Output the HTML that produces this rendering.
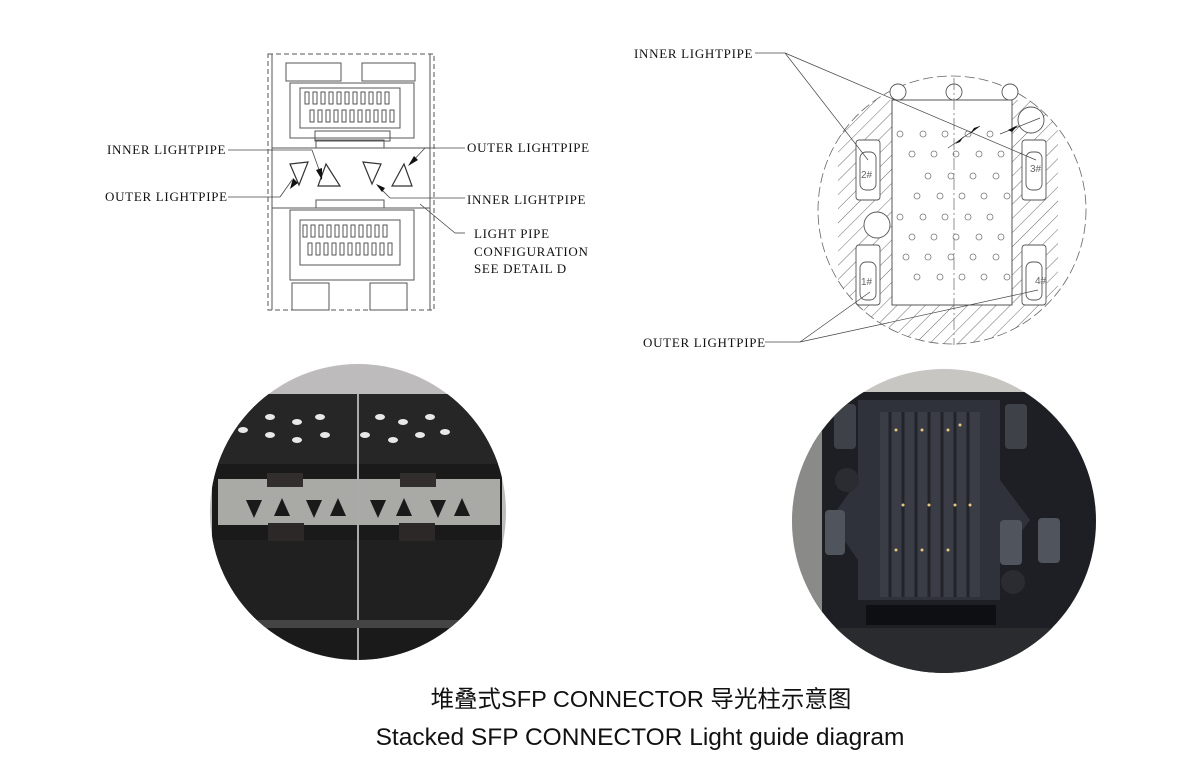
<!DOCTYPE html>
<html><head><meta charset="utf-8"><style>
html,body{margin:0;padding:0;background:#fff;}
svg{display:block}
.t{font-family:"Liberation Serif",serif;font-size:13px;fill:#111;letter-spacing:0.7px}
</style></head><body>
<svg width="1200" height="777" viewBox="0 0 1200 777" xmlns="http://www.w3.org/2000/svg">
<defs>
<clipPath id="c1"><circle cx="358" cy="512" r="148"/></clipPath>
<clipPath id="c2"><circle cx="944" cy="521" r="152"/></clipPath>
<clipPath id="c3"><circle cx="952" cy="210" r="134"/></clipPath>
<pattern id="h" width="10" height="10" patternUnits="userSpaceOnUse" patternTransform="rotate(45)"><line x1="0" y1="0" x2="0" y2="10" stroke="#444" stroke-width="0.8"/></pattern>
</defs>

<!-- LEFT DRAWING -->
<g fill="none" stroke="#555" stroke-width="1">
<rect x="268" y="54" width="166" height="256" stroke-dasharray="5,3"/>
<line x1="272" y1="54" x2="272" y2="310"/><line x1="430" y1="54" x2="430" y2="310"/>
<rect x="286" y="63" width="55" height="18"/><rect x="362" y="63" width="53" height="18"/>
<rect x="290" y="83" width="124" height="55"/>
<rect x="300" y="88" width="100" height="40"/>
<rect x="315" y="131" width="75" height="10"/>
<rect x="316" y="140" width="68" height="8"/>
<line x1="272" y1="148" x2="430" y2="148"/>
<rect x="316" y="200" width="68" height="8"/>
<rect x="290" y="210" width="124" height="70"/>
<rect x="300" y="220" width="100" height="45"/>
<line x1="272" y1="208" x2="430" y2="208"/>
<rect x="292" y="283" width="37" height="27"/><rect x="370" y="283" width="37" height="27"/>
</g>
<g fill="#fff" stroke="#444" stroke-width="0.9">
<g id="pins"><rect x="305" y="92" width="4" height="12"/><rect x="313" y="92" width="4" height="12"/><rect x="321" y="92" width="4" height="12"/><rect x="329" y="92" width="4" height="12"/><rect x="337" y="92" width="4" height="12"/><rect x="345" y="92" width="4" height="12"/><rect x="353" y="92" width="4" height="12"/><rect x="361" y="92" width="4" height="12"/><rect x="369" y="92" width="4" height="12"/><rect x="377" y="92" width="4" height="12"/><rect x="385" y="92" width="4" height="12"/>
<rect x="310" y="110" width="4" height="12"/><rect x="318" y="110" width="4" height="12"/><rect x="326" y="110" width="4" height="12"/><rect x="334" y="110" width="4" height="12"/><rect x="342" y="110" width="4" height="12"/><rect x="350" y="110" width="4" height="12"/><rect x="358" y="110" width="4" height="12"/><rect x="366" y="110" width="4" height="12"/><rect x="374" y="110" width="4" height="12"/><rect x="382" y="110" width="4" height="12"/><rect x="390" y="110" width="4" height="12"/></g>
<use href="#pins" transform="translate(-2,133)"/>
</g>
<g fill="none" stroke="#333" stroke-width="1.2">
<path d="M290 164 L308 162 L299 185 Z"/><path d="M326 164 L340 186 L318 186 Z"/>
<path d="M363 162 L381 164 L372 184 Z"/><path d="M404 164 L412 186 L392 186 Z"/>
</g>
<g stroke="#444" stroke-width="0.8" fill="none">
<line x1="228" y1="150" x2="312" y2="150"/><line x1="312" y1="150" x2="322" y2="178"/>
<line x1="228" y1="197" x2="280" y2="197"/><line x1="280" y1="197" x2="292" y2="180"/>
<line x1="465" y1="148" x2="425" y2="148"/><line x1="425" y1="148" x2="410" y2="164"/>
<line x1="465" y1="198" x2="390" y2="198"/><line x1="390" y1="198" x2="378" y2="186"/>
<line x1="465" y1="233" x2="455" y2="233"/><line x1="455" y1="233" x2="420" y2="204"/>
</g>
<g fill="#111">
<path d="M322 180 L316 170 L322 168 Z"/><path d="M293 178 L290 189 L298 183 Z"/>
<path d="M408 166 L414 156 L418 160 Z"/><path d="M376 184 L385 188 L382 192 Z"/>
</g>
<text class="t" x="107" y="154">INNER LIGHTPIPE</text>
<text class="t" x="105" y="201">OUTER LIGHTPIPE</text>
<text class="t" x="467" y="152">OUTER LIGHTPIPE</text>
<text class="t" x="467" y="204">INNER LIGHTPIPE</text>
<text class="t" x="474" y="238">LIGHT PIPE</text>
<text class="t" x="474" y="256">CONFIGURATION</text>
<text class="t" x="474" y="273">SEE DETAIL D</text>

<!-- RIGHT DRAWING -->
<circle cx="952" cy="210" r="134" fill="none" stroke="#666" stroke-dasharray="10,4" stroke-width="0.8"/>
<g clip-path="url(#c3)">
<path d="M838 100 L892 100 L892 305 L1012 305 L1012 100 L1058 100 L1058 305 L1058 360 L838 360 Z" fill="url(#h)"/>
<rect x="892" y="100" width="120" height="205" fill="#fff" stroke="#555"/>
</g>
<g fill="#fff" stroke="#555" stroke-width="0.9">
<rect x="856" y="140" width="24" height="60" rx="3"/><rect x="860" y="152" width="16" height="38" rx="6"/>
<rect x="1022" y="140" width="24" height="60" rx="3"/><rect x="1026" y="152" width="16" height="38" rx="6"/>
<rect x="856" y="245" width="24" height="60" rx="3"/><rect x="860" y="262" width="16" height="38" rx="6"/>
<rect x="1022" y="245" width="24" height="60" rx="3"/><rect x="1026" y="262" width="16" height="38" rx="6"/>
<circle cx="898" cy="92" r="8"/><circle cx="954" cy="92" r="8"/><circle cx="1010" cy="92" r="8"/>
<circle cx="1031" cy="120" r="13"/><circle cx="877" cy="225" r="13"/>
</g>
<g fill="none" stroke="#777" stroke-width="0.8">
<circle cx="900" cy="134" r="3"/><circle cx="923" cy="134" r="3"/><circle cx="945" cy="134" r="3"/><circle cx="968" cy="134" r="3"/><circle cx="990" cy="134" r="3"/>
<circle cx="912" cy="154" r="3"/><circle cx="934" cy="154" r="3"/><circle cx="956" cy="154" r="3"/><circle cx="979" cy="154" r="3"/><circle cx="1001" cy="154" r="3"/>
<circle cx="928" cy="176" r="3"/><circle cx="951" cy="176" r="3"/><circle cx="973" cy="176" r="3"/><circle cx="996" cy="176" r="3"/>
<circle cx="917" cy="196" r="3"/><circle cx="940" cy="196" r="3"/><circle cx="962" cy="196" r="3"/><circle cx="984" cy="196" r="3"/><circle cx="1007" cy="196" r="3"/>
<circle cx="900" cy="217" r="3"/><circle cx="923" cy="217" r="3"/><circle cx="945" cy="217" r="3"/><circle cx="968" cy="217" r="3"/><circle cx="990" cy="217" r="3"/>
<circle cx="912" cy="237" r="3"/><circle cx="934" cy="237" r="3"/><circle cx="956" cy="237" r="3"/><circle cx="979" cy="237" r="3"/><circle cx="1001" cy="237" r="3"/>
<circle cx="906" cy="257" r="3"/><circle cx="928" cy="257" r="3"/><circle cx="951" cy="257" r="3"/><circle cx="973" cy="257" r="3"/><circle cx="996" cy="257" r="3"/>
<circle cx="917" cy="277" r="3"/><circle cx="940" cy="277" r="3"/><circle cx="962" cy="277" r="3"/><circle cx="984" cy="277" r="3"/><circle cx="1007" cy="277" r="3"/>
<line x1="954" y1="78" x2="954" y2="345" stroke-dasharray="12,3,2,3"/>
</g>
<g font-family="Liberation Sans,sans-serif" font-size="10" fill="#666">
<text x="861" y="178">2#</text><text x="1030" y="172">3#</text><text x="861" y="285">1#</text><text x="1035" y="284">4#</text>
</g>
<g stroke="#444" stroke-width="0.7" fill="none">
<line x1="755" y1="53" x2="785" y2="53"/><line x1="785" y1="53" x2="868" y2="160"/><line x1="785" y1="53" x2="1036" y2="160"/>
<line x1="765" y1="342" x2="800" y2="342"/><line x1="800" y1="342" x2="870" y2="292"/><line x1="800" y1="342" x2="1038" y2="290"/>
<line x1="948" y1="148" x2="980" y2="126"/><line x1="1000" y1="134" x2="1040" y2="118"/>
</g>
<g fill="#111"><path d="M955 144 L964 136 L960 142 Z"/><path d="M980 126 L970 134 L974 128 Z"/><path d="M1008 130 L1018 125 L1012 132 Z"/></g>
<text class="t" x="634" y="58">INNER LIGHTPIPE</text>
<text class="t" x="643" y="347">OUTER LIGHTPIPE</text>

<!-- PHOTO 1 -->
<g clip-path="url(#c1)">
<rect x="200" y="360" width="320" height="310" fill="#bdbbbb"/>
<rect x="212" y="394" width="290" height="266" fill="#1a1a1a"/>
<rect x="212" y="394" width="290" height="70" fill="#262626"/>
<rect x="212" y="540" width="290" height="80" fill="#202020"/>
<g fill="#e8e8e8">
<ellipse cx="270" cy="417" rx="5" ry="3"/><ellipse cx="297" cy="422" rx="5" ry="3"/><ellipse cx="320" cy="417" rx="5" ry="3"/>
<ellipse cx="243" cy="430" rx="5" ry="3"/><ellipse cx="270" cy="435" rx="5" ry="3"/><ellipse cx="297" cy="440" rx="5" ry="3"/><ellipse cx="325" cy="435" rx="5" ry="3"/>
<ellipse cx="380" cy="417" rx="5" ry="3"/><ellipse cx="403" cy="422" rx="5" ry="3"/><ellipse cx="430" cy="417" rx="5" ry="3"/>
<ellipse cx="365" cy="435" rx="5" ry="3"/><ellipse cx="393" cy="440" rx="5" ry="3"/><ellipse cx="420" cy="435" rx="5" ry="3"/><ellipse cx="445" cy="432" rx="5" ry="3"/>
</g>
<rect x="218" y="479" width="282" height="46" fill="#a9a9a5"/>
<rect x="267" y="473" width="36" height="14" fill="#332e2e"/><rect x="400" y="473" width="36" height="14" fill="#332e2e"/>
<rect x="268" y="523" width="36" height="18" fill="#2c2828"/><rect x="399" y="523" width="36" height="18" fill="#2c2828"/>
<g fill="#1a1a1a">
<path d="M246 500 L262 500 L254 518 Z"/><path d="M274 516 L290 516 L282 498 Z"/><path d="M306 500 L322 500 L314 518 Z"/><path d="M330 516 L346 516 L338 498 Z"/>
<path d="M370 500 L386 500 L378 518 Z"/><path d="M396 516 L412 516 L404 498 Z"/><path d="M430 500 L446 500 L438 518 Z"/><path d="M454 516 L470 516 L462 498 Z"/>
</g>
<line x1="358" y1="394" x2="358" y2="660" stroke="#aaa" stroke-width="2"/>
<rect x="212" y="620" width="290" height="8" fill="#444"/>
</g>

<!-- PHOTO 2 -->
<g clip-path="url(#c2)">
<rect x="780" y="365" width="330" height="315" fill="#c8c6c2"/>
<rect x="812" y="392" width="298" height="288" fill="#1d1f24"/>
<rect x="792" y="420" width="30" height="200" fill="#8a8a88"/>
<path d="M858 400 L1000 400 L1000 480 L1030 520 L1000 560 L1000 600 L858 600 L858 560 L830 520 L858 480 Z" fill="#2f323a"/>
<rect x="880" y="412" width="100" height="185" fill="#3a3d45"/>
<g stroke="#22242a" stroke-width="3">
<line x1="890" y1="412" x2="890" y2="597"/><line x1="903" y1="412" x2="903" y2="597"/><line x1="916" y1="412" x2="916" y2="597"/><line x1="929" y1="412" x2="929" y2="597"/><line x1="942" y1="412" x2="942" y2="597"/><line x1="955" y1="412" x2="955" y2="597"/><line x1="968" y1="412" x2="968" y2="597"/>
</g>
<g fill="#e6c680">
<circle cx="896" cy="430" r="1.5"/><circle cx="922" cy="430" r="1.5"/><circle cx="948" cy="430" r="1.5"/><circle cx="960" cy="425" r="1.5"/>
<circle cx="903" cy="505" r="1.5"/><circle cx="929" cy="505" r="1.5"/><circle cx="955" cy="505" r="1.5"/><circle cx="970" cy="505" r="1.5"/>
<circle cx="896" cy="550" r="1.5"/><circle cx="922" cy="550" r="1.5"/><circle cx="948" cy="550" r="1.5"/>
</g>
<rect x="825" y="510" width="20" height="45" rx="4" fill="#50545c"/><rect x="1000" y="520" width="22" height="45" rx="4" fill="#50545c"/><rect x="1038" y="518" width="22" height="45" rx="4" fill="#50545c"/>
<rect x="834" y="404" width="22" height="45" rx="4" fill="#3e4148"/><rect x="1005" y="404" width="22" height="45" rx="4" fill="#3e4148"/>
<circle cx="847" cy="480" r="12" fill="#2a2c32"/><circle cx="1013" cy="582" r="12" fill="#2a2c32"/>
<rect x="866" y="605" width="130" height="20" fill="#0e0f12"/>
<rect x="820" y="628" width="260" height="50" fill="#2a2b2e"/>
</g>

<text x="641" y="707" text-anchor="middle" font-family="Liberation Sans,'Noto Sans CJK SC',sans-serif" font-size="23.5" fill="#111">堆叠式SFP CONNECTOR 导光柱示意图</text>
<text x="640" y="745" text-anchor="middle" font-family="Liberation Sans,sans-serif" font-size="24.5" fill="#111">Stacked SFP CONNECTOR Light guide diagram</text>
</svg>
</body></html>
